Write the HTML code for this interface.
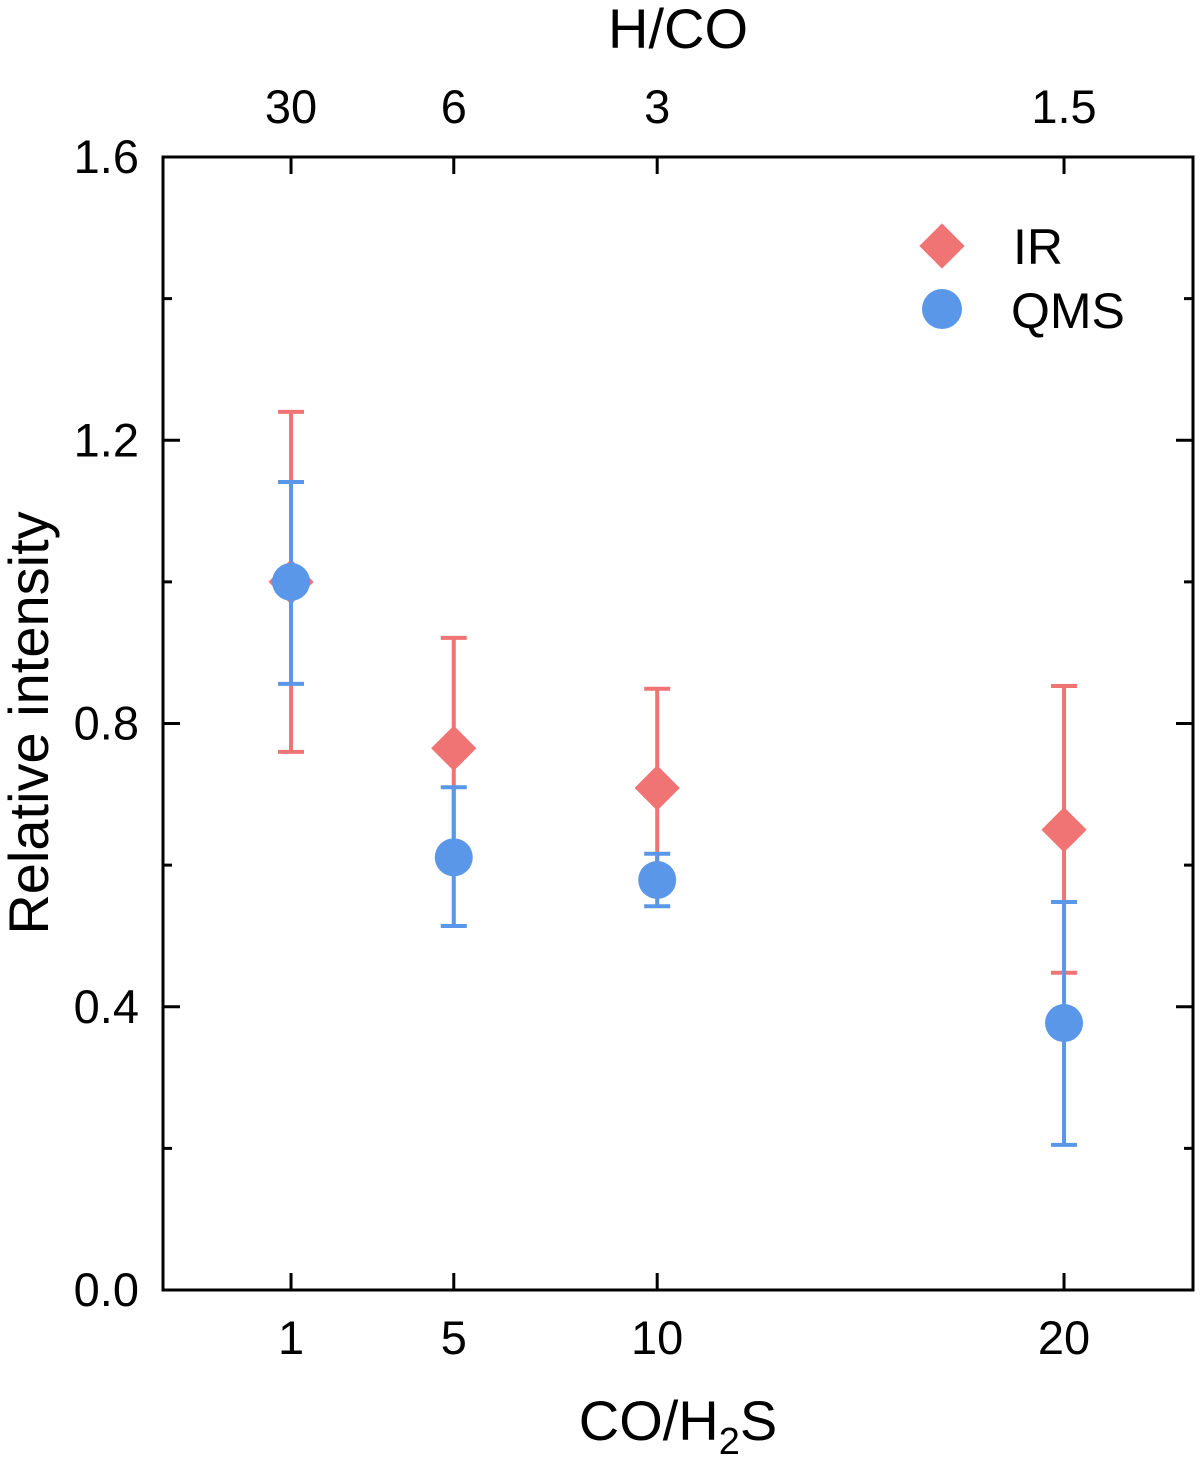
<!DOCTYPE html>
<html><head><meta charset="utf-8"><style>
html,body{margin:0;padding:0;background:#fff;}
svg{display:block;font-family:"Liberation Sans",sans-serif;}
</style></head><body>
<svg id="chart" width="1200" height="1463" viewBox="0 0 1200 1463">
<g id="axes"></g><g id="marks"></g>
<g>
<rect x="926" y="230" width="32" height="32" transform="rotate(45 942 246)" fill="#f07474"/>
<text x="1013" y="264" font-size="50">IR</text>
<circle cx="942" cy="309" r="20" fill="#5b97e8"/>
<text x="1011" y="328" font-size="50">QMS</text>
</g>
<text transform="translate(48 723) rotate(-90)" text-anchor="middle" font-size="56">Relative intensity</text>
<text x="678" y="1440" text-anchor="middle" font-size="56">CO/H<tspan font-size="38" dy="14">2</tspan><tspan dy="-14">S</tspan></text>
<text x="678" y="48" text-anchor="middle" font-size="56">H/CO</text>
</svg>
<script>
const xCats=[1,5,10,20];
const topLabels=["30","6","3","1.5"];
const irVal=[1.0,0.765,0.709,0.650];
const irLo=[0.76,0.607,0.573,0.448];
const irHi=[1.24,0.921,0.849,0.853];
const qmsVal=[1.0,0.611,0.579,0.377];
const qmsLo=[0.856,0.514,0.542,0.205];
const qmsHi=[1.141,0.710,0.616,0.548];
const yTicks=[0,0.4,0.8,1.2,1.6];
const yMinor=[0.2,0.6,1.0,1.4];
const L=163,R=1193,T=157,B=1290,X0=-2.147,X1=23.17;
const sx=v=>L+(v-X0)/(X1-X0)*(R-L);
const sy=v=>B-v/1.6*(B-T);
const NS="http://www.w3.org/2000/svg";
function mk(tag,attrs,parent){const e=document.createElementNS(NS,tag);for(const k in attrs)e.setAttribute(k,attrs[k]);parent.appendChild(e);return e;}
const ax=document.getElementById('axes'),mg=document.getElementById('marks');
let fr=mk('rect',{x:L,y:T,width:R-L,height:B-T,fill:'none',stroke:'#000','stroke-width':3},ax);


xCats.forEach((c,i)=>{const x=sx(c);
 let t=mk('line',{x1:x,x2:x,y1:B,y2:B-17,stroke:'#000','stroke-width':3},ax);
 
 
 let t2=mk('line',{x1:x,x2:x,y1:T,y2:T+17,stroke:'#000','stroke-width':3},ax);
 
 
 let l=mk('text',{x:x,y:1354,'text-anchor':'middle','font-size':47},ax);l.textContent=c;
 
 
 let l2=mk('text',{x:x,y:123,'text-anchor':'middle','font-size':47},ax);l2.textContent=topLabels[i];
 
 
});
yTicks.forEach(v=>{const y=sy(v);
 [[L,L+17],[R,R-17]].forEach(p=>{let t=mk('line',{x1:p[0],x2:p[1],y1:y,y2:y,stroke:'#000','stroke-width':3},ax);
 
 });
 let l=mk('text',{x:139,y:y+16,'text-anchor':'end','font-size':47},ax);l.textContent=v.toFixed(1);
 
 
});
yMinor.forEach(v=>{const y=sy(v);
 [[L,L+9],[R,R-9]].forEach(p=>{let t=mk('line',{x1:p[0],x2:p[1],y1:y,y2:y,stroke:'#000','stroke-width':3},ax);
 
 });
});
function series(vals,lo,hi,color,kind){
 xCats.forEach((c,i)=>{const x=sx(c);
  let g=mk('g',{stroke:color,'stroke-width':4},mg);
  
  
  mk('line',{x1:x,x2:x,y1:sy(lo[i]),y2:sy(hi[i])},g);
  mk('line',{x1:x-13,x2:x+13,y1:sy(lo[i]),y2:sy(lo[i])},g);
  mk('line',{x1:x-13,x2:x+13,y1:sy(hi[i]),y2:sy(hi[i])},g);
  const y=sy(vals[i]);let m;
  if(kind==='ir'){m=mk('rect',{x:x-16,y:y-16,width:32,height:32,fill:color,transform:`rotate(45 ${x} ${y})`},mg);}
  else{m=mk('circle',{cx:x,cy:y,r:19,fill:color},mg);}
  
  
 });
}
series(irVal,irLo,irHi,'#f07474','ir');
series(qmsVal,qmsLo,qmsHi,'#5b97e8','qms');
</script>
</body></html>
